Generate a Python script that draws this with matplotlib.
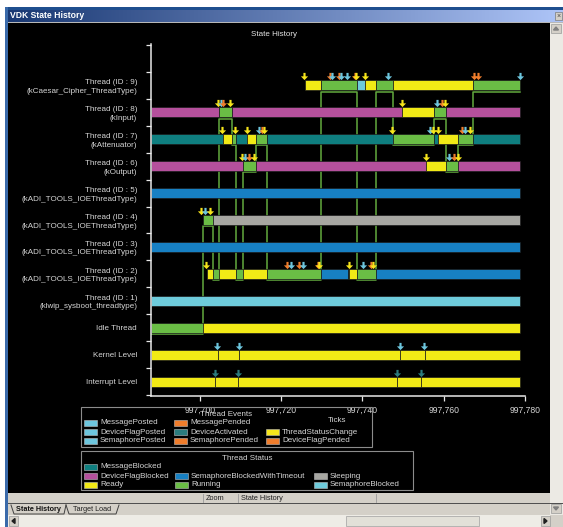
"""
VDK state history - redraw of the emulator window
"""

import numpy as np
import matplotlib
matplotlib.use('Agg')
import matplotlib.pyplot as plt
from matplotlib.patches import Rectangle, Polygon
from matplotlib.lines import Line2D
from matplotlib.path import Path
from matplotlib.ticker import StrMethodFormatter

plt.rcParams['font.family'] = ['Liberation Sans', 'DejaVu Sans']

W, H = 563, 527

row_labels = ['Thread (ID : 9)\n(kCaesar_Cipher_ThreadType)',
              'Thread (ID : 8)\n(kInput)',
              'Thread (ID : 7)\n(kAttenuator)',
              'Thread (ID : 6)\n(kOutput)',
              'Thread (ID : 5)\n(kADI_TOOLS_IOEThreadType)',
              'Thread (ID : 4)\n(kADI_TOOLS_IOEThreadType)',
              'Thread (ID : 3)\n(kADI_TOOLS_IOEThreadType)',
              'Thread (ID : 2)\n(kADI_TOOLS_IOEThreadType)',
              'Thread (ID : 1)\n(klwip_sysboot_threadtype)',
              'Idle Thread', 'Kernel Level', 'Interrupt Level']

x_ticks = [997700, 997720, 997740, 997760, 997780]

# state segments (start, end, state) - R ready, G running, M message blocked,
# F device flag blocked, W sem blocked w/ timeout, S sleeping, B sem blocked
seg_t9 = [(997725.8, 997729.7, 'R'), (997729.7, 997738.6, 'G'), (997738.6, 997740.6, 'B'),
          (997740.6, 997743.4, 'R'), (997743.4, 997747.6, 'G'), (997747.6, 997767.2, 'R'),
          (997767.2, 997778.8, 'G')]
seg_t8 = [(997687.9, 997704.7, 'F'), (997704.7, 997707.8, 'G'), (997707.8, 997749.7, 'F'),
          (997749.7, 997757.5, 'R'), (997757.5, 997760.5, 'G'), (997760.5, 997778.8, 'F')]
seg_t7 = [(997687.9, 997705.6, 'M'), (997705.6, 997707.8, 'R'), (997707.8, 997708.8, 'G'),
          (997708.8, 997711.5, 'M'), (997711.5, 997713.7, 'R'), (997713.7, 997716.5, 'G'),
          (997716.5, 997747.6, 'M'), (997747.6, 997757.5, 'G'), (997757.5, 997758.6, 'M'),
          (997758.6, 997763.6, 'R'), (997763.6, 997767.2, 'G'), (997767.2, 997778.8, 'M')]
seg_t6 = [(997687.9, 997710.5, 'F'), (997710.5, 997713.7, 'G'), (997713.7, 997755.6, 'F'),
          (997755.6, 997760.5, 'R'), (997760.5, 997763.6, 'G'), (997763.6, 997778.8, 'F')]
seg_t5 = [(997687.9, 997778.8, 'W')]
seg_t4 = [(997700.7, 997703.2, 'G'), (997703.2, 997778.8, 'S')]
seg_t3 = [(997687.9, 997778.8, 'W')]
seg_t2 = [(997701.8, 997703.2, 'R'), (997703.2, 997704.7, 'G'), (997704.7, 997708.8, 'R'),
          (997708.8, 997710.5, 'G'), (997710.5, 997716.5, 'R'), (997716.5, 997729.7, 'G'),
          (997729.7, 997736.5, 'W'), (997736.7, 997738.6, 'R'), (997738.6, 997743.4, 'G'),
          (997743.4, 997778.8, 'W')]
seg_t1 = [(997687.9, 997778.8, 'B')]
seg_idle = [(997687.9, 997700.7, 'G'), (997700.7, 997778.8, 'R')]
seg_kernel = [(997687.9, 997704.4, 'R'), (997704.4, 997709.7, 'R'), (997709.7, 997749.2, 'R'),
              (997749.2, 997755.4, 'R'), (997755.4, 997778.8, 'R')]
seg_irq = [(997687.9, 997703.7, 'R'), (997703.7, 997709.3, 'R'), (997709.3, 997748.4, 'R'),
           (997748.4, 997754.4, 'R'), (997754.4, 997778.8, 'R')]

# tick events (time, kind): tsc status change, post, pend, act device activated
ev_t9 = [(997725.6, 'tsc'), (997732.0, 'pend'), (997732.6, 'post'), (997734.2, 'pend'),
         (997734.6, 'post'), (997736.3, 'post'), (997738.2, 'pend'), (997738.4, 'tsc'),
         (997740.6, 'tsc'), (997746.4, 'post'), (997767.5, 'pend'), (997768.4, 'pend'),
         (997778.8, 'post')]
ev_t8 = [(997704.5, 'tsc'), (997705.2, 'post'), (997705.7, 'pend'), (997707.4, 'tsc'),
         (997749.7, 'tsc'), (997758.3, 'post'), (997759.5, 'pend'), (997760.3, 'tsc')]
ev_t7 = [(997705.5, 'tsc'), (997708.5, 'tsc'), (997711.5, 'tsc'), (997714.5, 'post'),
         (997715.2, 'pend'), (997715.8, 'tsc'), (997747.3, 'tsc'), (997756.5, 'post'),
         (997757.4, 'tsc'), (997758.7, 'tsc'), (997764.4, 'pend'), (997765.2, 'post'),
         (997766.5, 'tsc')]
ev_t6 = [(997710.3, 'tsc'), (997711.1, 'post'), (997712.1, 'pend'), (997713.3, 'tsc'),
         (997755.6, 'tsc'), (997761.4, 'post'), (997762.5, 'pend'), (997763.4, 'tsc')]
ev_t4 = [(997700.25, 'tsc'), (997701.2, 'post'), (997702.5, 'tsc')]
ev_t2 = [(997701.6, 'tsc'), (997721.3, 'pend'), (997722.4, 'post'), (997724.4, 'pend'),
         (997725.4, 'post'), (997729.0, 'pend'), (997729.4, 'tsc'), (997736.6, 'tsc'),
         (997740.2, 'post'), (997742.0, 'pend'), (997742.5, 'tsc')]
ev_kernel = [(997704.3, 'post'), (997709.6, 'post'), (997749.2, 'post'), (997755.2, 'post')]
ev_irq = [(997703.7, 'act'), (997709.3, 'act'), (997748.4, 'act'), (997754.4, 'act')]

segments = [seg_t9, seg_t8, seg_t7, seg_t6, seg_t5, seg_t4, seg_t3, seg_t2, seg_t1,
            seg_idle, seg_kernel, seg_irq]
events = [ev_t9, ev_t8, ev_t7, ev_t6, [], ev_t4, [], ev_t2, [], [], ev_kernel, ev_irq]

state_col = {'M': '#0F7F80', 'F': '#B5509C', 'W': '#1780C3', 'S': '#A7A7A2',
             'R': '#F2EA16', 'G': '#6ABD45', 'B': '#6ECBDB'}
event_col = {'tsc': '#F7E51B', 'post': '#6DC6DE', 'pend': '#F07D2C', 'act': '#2B7C7E'}

events_legend = [('MessagePosted', '#6DC6DE', 0, 0), ('MessagePended', '#F07D2C', 1, 0),
                 ('DeviceFlagPosted', '#6DC6DE', 0, 1), ('DeviceActivated', '#2B7C7E', 1, 1),
                 ('ThreadStatusChange', '#F7E51B', 2, 1),
                 ('SemaphorePosted', '#6DC6DE', 0, 2), ('SemaphorePended', '#F07D2C', 1, 2),
                 ('DeviceFlagPended', '#F07D2C', 2, 2)]
status_legend = [('MessageBlocked', '#0F7F80', 0, 0),
                 ('DeviceFlagBlocked', '#B5509C', 0, 1), ('SemaphoreBlockedWithTimeout', '#1780C3', 1, 1),
                 ('Sleeping', '#A7A7A2', 2, 1),
                 ('Ready', '#F2EA16', 0, 2), ('Running', '#6ABD45', 1, 2),
                 ('SemaphoreBlocked', '#6ECBDB', 2, 2)]

TXT = '#D6D6D6'
FS = 5.8

fig = plt.figure(figsize=(W / 100, H / 100), dpi=100)
fig.patch.set_facecolor('white')


def box(x, y, w, h, fc, ec='none', lw=0, z=0):
    fig.add_artist(Rectangle((x / W, 1 - (y + h) / H), w / W, h / H, transform=fig.transFigure,
                             facecolor=fc, edgecolor=ec, linewidth=lw, zorder=z))


def ftext(x, y, s, **kw):
    fig.text(x / W, 1 - y / H, s, **kw)


def fline(xs, ys, c, lw=0.8):
    fig.add_artist(Line2D([x / W for x in xs], [1 - y / H for y in ys], transform=fig.transFigure,
                          color=c, lw=lw))


# --- window chrome
box(5, 7, 558, 520, '#D4D0C8')
box(5, 7, 558, 3, '#1F4F8F')
box(5, 7, 3, 520, '#3A6AAA')
tb = fig.add_axes([8 / W, 1 - 22 / H, 555 / W, 12 / H])
tb.imshow(np.linspace(0, 1, 256)[None, :, None] * np.array([0.58, 0.55, 0.52])[None, None, :]
          + np.array([0.10, 0.22, 0.45])[None, None, :], aspect='auto', extent=(0, 1, 0, 1))
tb.set_axis_off()
ftext(10, 16, 'VDK State History', color='white', fontsize=6.2, fontweight='bold', va='center')
box(555, 12, 7, 8, '#D4D0C8', ec='#7A7A7A', lw=0.5, z=3)
ftext(558.5, 16, '×', color='#404040', fontsize=5, ha='center', va='center', zorder=4)
box(8, 22, 555, 1.5, '#B8B8B8')
box(8, 23, 542, 470, 'black')
# vertical scroll bar
box(550, 23, 13, 492, '#ECEAE4')
box(551, 24, 10, 9, '#D4D0C8', ec='#9A9A9A', lw=0.5)
fig.add_artist(Polygon([(553.5 / W, 1 - 30 / H), (558.5 / W, 1 - 30 / H), (556 / W, 1 - 27 / H)],
                       transform=fig.transFigure, color='#808080'))
box(551, 504, 10, 9, '#D4D0C8', ec='#9A9A9A', lw=0.5)
fig.add_artist(Polygon([(553.5 / W, 1 - 507 / H), (558.5 / W, 1 - 507 / H), (556 / W, 1 - 510 / H)],
                       transform=fig.transFigure, color='#808080'))
# status bar
box(8, 493, 542, 10, '#D4D0C8')
for xs in (203, 238, 376):
    fline([xs, xs], [494, 502], '#9A9A9A', 0.6)
ftext(206, 498, 'Zoom', color='#202020', fontsize=5.3, va='center')
ftext(241, 498, 'State History', color='#202020', fontsize=5.3, va='center')
box(8, 503, 555, 1, '#505050')
# tabs
fline([11, 14, 64, 66], [505, 514, 514, 505], '#404040', 0.7)
fline([66, 69, 116, 119], [505, 514, 514, 505], '#404040', 0.7)
ftext(16, 509.5, 'State History', color='#101010', fontsize=5.2, fontweight='bold', va='center')
ftext(73, 509.5, 'Target Load', color='#202020', fontsize=5.2, va='center')
# horizontal scroll bar
box(8, 515, 542, 12, '#EEECE6')
box(9, 516, 9, 10, '#D4D0C8', ec='#9A9A9A', lw=0.5)
box(346, 516, 133, 10, '#E2E0D8', ec='#A0A0A0', lw=0.5)
box(541, 516, 9, 10, '#D4D0C8', ec='#9A9A9A', lw=0.5)
fig.add_artist(Polygon([(12 / W, 1 - 521 / H), (15 / W, 1 - 518.5 / H), (15 / W, 1 - 523.5 / H)],
                       transform=fig.transFigure, color='#202020'))
fig.add_artist(Polygon([(547 / W, 1 - 521 / H), (544 / W, 1 - 518.5 / H), (544 / W, 1 - 523.5 / H)],
                       transform=fig.transFigure, color='#202020'))

# --- main chart
ax = fig.add_axes([151 / W, 1 - 396 / H, (525 - 151) / W, (396 - 44) / H])
ax.set_facecolor('black')
ax.set_xlim(997687.94, 997780)
ax.set_ylim(11.52, -1.52)

BAR_H = 0.37
for r, segs in enumerate(segments):
    for s, e, st in segs:
        ax.broken_barh([(s, e - s)], (r - BAR_H / 2, BAR_H), facecolors=state_col[st],
                       edgecolor='#1c1c1c', linewidth=0.5, zorder=2)

# running trace (context switches)
run = []
for r, segs in enumerate(segments[:10]):
    for s, e, st in segs:
        if st == 'G':
            run.append((s, e, r))
run.sort()
tx, ty = [], []
for s, e, r in run:
    tx += [s, e]
    ty += [r + 0.24, r + 0.24]
ax.plot(tx, ty, color='#62AA3E', lw=1.1, zorder=1)

arrow = Path([(-0.15, 0.5), (0.15, 0.5), (0.15, 0.02), (0.5, 0.02), (0.0, -0.5),
              (-0.5, 0.02), (-0.15, 0.02), (-0.15, 0.5)], closed=True)
for r, evs in enumerate(events):
    for t, k in evs:
        ax.plot([t], [r - 0.32], marker=arrow, ms=5.2, color=event_col[k], mew=0,
                ls='none', zorder=3)

for sp in ('top', 'right'):
    ax.spines[sp].set_visible(False)
for sp in ('left', 'bottom'):
    ax.spines[sp].set_color('#E8E8E8')
    ax.spines[sp].set_linewidth(1.1)

ax.set_xticks(x_ticks)
ax.xaxis.set_major_formatter(StrMethodFormatter('{x:,.0f}'))
ax.tick_params(axis='x', colors='#E8E8E8', labelcolor=TXT, labelsize=6.2, length=3.6,
               width=0.9, pad=3.5)
ax.set_yticks(np.arange(-1.5, 12, 1))
ax.set_yticklabels([])
ax.set_yticks(np.arange(12), minor=True)
ax.set_yticklabels(row_labels, minor=True, fontsize=FS, color=TXT, linespacing=1.3)
ax.tick_params(axis='y', which='major', colors='#E8E8E8', length=3.6, width=0.9)
ax.tick_params(axis='y', which='minor', length=0, pad=10)

ftext(274, 35, 'State History', color='#E4E4E4', fontsize=FS, ha='center', va='center')

# --- legends
box(81, 407, 291, 40, 'none', ec='#8C8C8C', lw=0.8, z=1)
ftext(226, 414, 'Thread Events', color=TXT, fontsize=FS, ha='center', va='center')
ftext(337, 420, 'Ticks', color=TXT, fontsize=FS, ha='center', va='center')
ev_cols = [84, 174, 266]
ev_rows = [423, 432, 441]
for name, c, ci, ri in events_legend:
    box(ev_cols[ci], ev_rows[ri] - 3, 13, 6, c, ec='#BDBDBD', lw=0.4, z=2)
    ftext(ev_cols[ci] + 16, ev_rows[ri], name, color=TXT, fontsize=FS, va='center')

box(81, 451, 332, 39, 'none', ec='#8C8C8C', lw=0.8, z=1)
ftext(247, 458, 'Thread Status', color=TXT, fontsize=FS, ha='center', va='center')
st_cols = [84, 175, 314]
st_rows = [467, 476, 485]
for name, c, ci, ri in status_legend:
    box(st_cols[ci], st_rows[ri] - 3, 13, 6, c, ec='#BDBDBD', lw=0.4, z=2)
    ftext(st_cols[ci] + 16, st_rows[ri], name, color=TXT, fontsize=FS, va='center')

fig.savefig('out.png', dpi=100, facecolor=fig.get_facecolor())
